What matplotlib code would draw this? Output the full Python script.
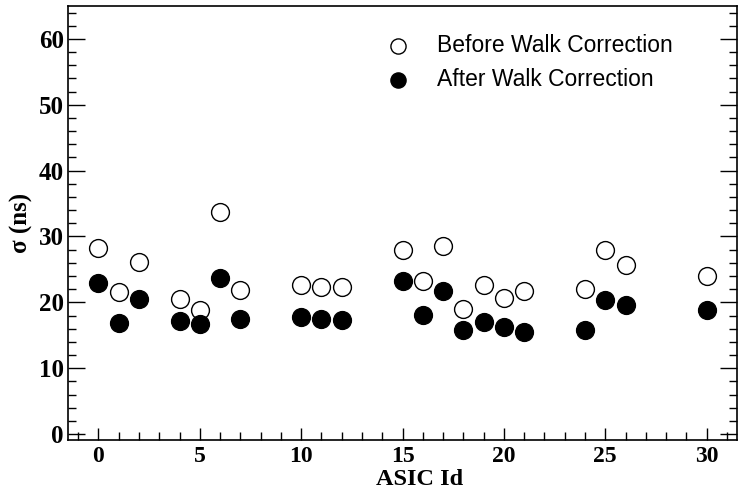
import matplotlib
matplotlib.use("Agg")
import matplotlib.pyplot as plt
from matplotlib.ticker import MultipleLocator

# ASIC ids and timing resolution (ns)
asic_id = [0, 1, 2, 4, 5, 6, 7, 10, 11, 12, 15, 16, 17, 18, 19, 20, 21, 24, 25, 26, 30]
sigma_before = [28.3, 21.5, 26.2, 20.5, 18.9, 33.7, 21.9, 22.6, 22.4, 22.3,
                27.9, 23.2, 28.5, 19.0, 22.7, 20.7, 21.7, 22.0, 28.0, 25.6, 24.0]
sigma_after = [22.9, 16.8, 20.5, 17.1, 16.7, 23.7, 17.4, 17.8, 17.4, 17.3,
               23.2, 18.1, 21.7, 15.8, 17.0, 16.2, 15.5, 15.8, 20.4, 19.6, 18.9]

serif = "Liberation Serif"

fig = plt.figure(figsize=(7.53, 5.01), dpi=100)
ax = fig.add_axes([0.0903, 0.1218, 0.8885, 0.8662])

ax.scatter(asic_id, sigma_before, s=165, facecolors="white", edgecolors="black",
           linewidths=1.0, label="Before Walk Correction", zorder=3)
ax.scatter(asic_id, sigma_after, s=165, facecolors="black", edgecolors="black",
           linewidths=1.0, label="After Walk Correction", zorder=3)

ax.set_xlim(-1.5, 31.5)
ax.set_ylim(-0.9, 65)

ax.xaxis.set_major_locator(MultipleLocator(5))
ax.xaxis.set_minor_locator(MultipleLocator(1))
ax.yaxis.set_major_locator(MultipleLocator(10))
ax.yaxis.set_minor_locator(MultipleLocator(2))

ax.tick_params(axis="y", which="both", direction="in", left=True, right=True)
ax.tick_params(axis="x", which="both", direction="in", bottom=True, top=False)
ax.tick_params(axis="y", which="major", length=12, width=1, pad=3)
ax.tick_params(axis="y", which="minor", length=6, width=1)
ax.tick_params(axis="x", which="major", length=9, width=1, pad=4)
ax.tick_params(axis="x", which="minor", length=6, width=1)

for lab in ax.get_yticklabels():
    lab.set_fontfamily(serif)
    lab.set_fontweight("bold")
    lab.set_fontsize(18)
for lab in ax.get_xticklabels():
    lab.set_fontfamily(serif)
    lab.set_fontweight("bold")
    lab.set_fontsize(17)

for sp in ax.spines.values():
    sp.set_linewidth(1.2)

ax.set_xlabel("ASIC Id", fontfamily=serif, fontweight="bold", fontsize=17.5)
ax.xaxis.set_label_coords(0.526, -0.068)
ax.set_ylabel("σ (ns)", fontfamily=serif, fontweight="bold", fontsize=18, labelpad=4)

ax.legend(loc="upper left", bbox_to_anchor=(0.445, 0.982), frameon=False,
          prop={"family": "Liberation Sans", "size": 16.5},
          handlelength=1.0, handletextpad=1.2, labelspacing=0.45, markerscale=0.85)

fig.savefig("out.png", dpi=100)
